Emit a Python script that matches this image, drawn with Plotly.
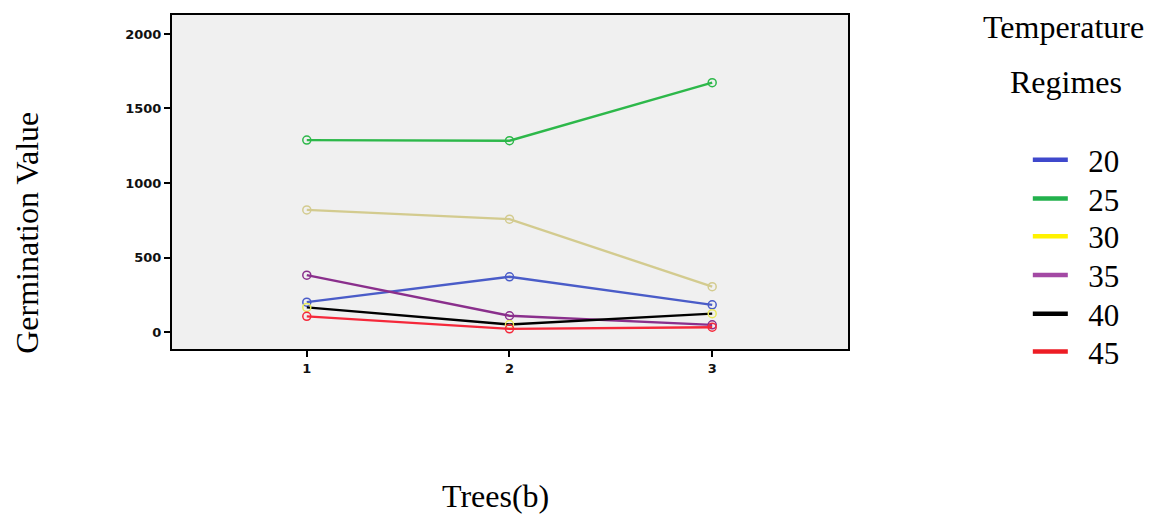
import plotly.graph_objects as go

trees = [1, 2, 3]
regimes = ["20", "25", "30", "35", "40", "45"]
values_20 = [201, 371, 183]
values_25 = [1288, 1284, 1673]
values_30 = [820, 758, 305]
values_35 = [382, 110, 49]
values_40 = [166, 51, 124]
values_45 = [106, 22, 33]
series = [values_20, values_25, values_30, values_35, values_40, values_45]

line_colors = ["#4a5cc8", "#2db84a", "#d3cb8f", "#8a2f8c", "#000000", "#f5283a"]
marker_colors = ["#4a5cc8", "#2db84a", "#d3cb8f", "#8a2f8c", "#e8e85a", "#f5283a"]
legend_colors = ["#3f48cc", "#22b14c", "#fff200", "#a349a4", "#000000", "#ed1c24"]

y_ticks = [0, 500, 1000, 1500, 2000]

serif = "Liberation Serif"
legend_names = ["legend", "legend2", "legend3", "legend4", "legend5", "legend6"]
legend_rows = [0.5655, 0.4494, 0.3363, 0.2203, 0.1042, -0.0089]

fig = go.Figure()
for name, vals, lc, mc in zip(regimes, series, line_colors, marker_colors):
    fig.add_trace(go.Scatter(
        x=trees, y=vals, mode="lines+markers", name=name, showlegend=False,
        line=dict(color=lc, width=2.4),
        marker=dict(symbol="circle-open", size=8, color=mc, line=dict(width=1.5, color=mc)),
    ))
for name, lc, lg in zip(regimes, legend_colors, legend_names):
    fig.add_trace(go.Scatter(
        x=[None], y=[None], mode="lines", name="\u00a0\u00a0" + name, legend=lg,
        line=dict(color=lc, width=4.5),
    ))

layout_legends = {}
for lg, yrow in zip(legend_names, legend_rows):
    layout_legends[lg] = dict(x=1.266, y=yrow, xanchor="left", yanchor="middle",
                              font=dict(family=serif, size=31, color="black"),
                              bgcolor="rgba(0,0,0,0)", itemwidth=35)

axis_common = dict(ticks="outside", ticklen=6, tickwidth=2, tickcolor="black",
                   showgrid=False, zeroline=False, showline=True, linecolor="black",
                   linewidth=2, mirror=True,
                   tickfont=dict(family="DejaVu Sans", size=13, color="#111", weight="bold"))

fig.update_layout(
    width=1154, height=516,
    margin=dict(l=164, r=314, t=5, b=175),
    paper_bgcolor="white", plot_bgcolor="#f0f0f0",
    showlegend=True,
    xaxis=dict(range=[0.335, 3.67], tickmode="array", tickvals=trees,
               ticktext=[str(t) for t in trees], **axis_common),
    yaxis=dict(range=[-113, 2127], tickmode="array", tickvals=y_ticks,
               ticktext=[str(t) for t in y_ticks], **axis_common),
    **layout_legends,
)

def note(text, x, y, angle=0):
    fig.add_annotation(text=text, xref="paper", yref="paper", x=x, y=y,
                       xanchor="center", yanchor="middle", textangle=angle,
                       showarrow=False, font=dict(family=serif, size=32, color="black"))

note("Germination Value", -0.2145, 0.348, -90)
note("Trees(b)", 0.478, -0.44)
note("Temperature", 1.319, 0.964)
note("Regimes", 1.322, 0.80)

fig.write_html("out.html")
